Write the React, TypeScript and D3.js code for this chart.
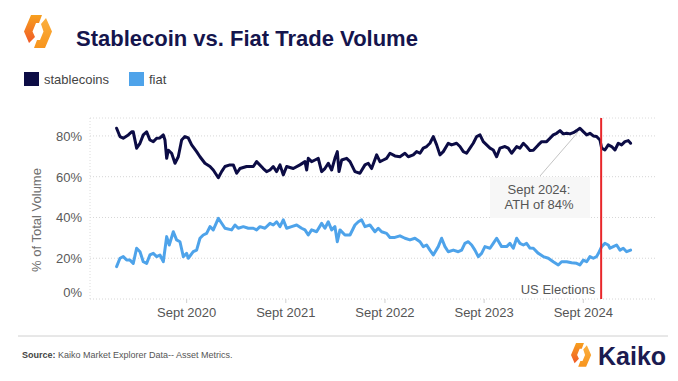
import React from "react";
import * as d3 from "d3";

// decimal-year, percent of total volume
const stablecoinSeries: [number, number][] = [
  [2019.960, 83.8],[2019.994, 79.7],[2020.027, 78.9],[2020.078, 80.5],[2020.112, 82],[2020.128, 82],
  [2020.162, 74],[2020.196, 76.4],[2020.229, 80.5],[2020.263, 82],[2020.296, 78],[2020.330, 77.2],
  [2020.364, 78.9],[2020.397, 79],[2020.431, 80.5],[2020.448, 78],[2020.465, 69],[2020.481, 73],
  [2020.515, 71.5],[2020.549, 66.6],[2020.582, 69.8],[2020.616, 78],[2020.649, 79.7],[2020.683, 79],
  [2020.717, 75.6],[2020.767, 72.3],[2020.801, 69.8],[2020.851, 66.6],[2020.902, 65],[2020.935, 63.3],
  [2020.986, 59.5],[2021.019, 62.5],[2021.053, 65],[2021.103, 65.8],[2021.137, 65.8],[2021.171, 61.7],
  [2021.204, 64],[2021.271, 65],[2021.305, 65],[2021.339, 65],[2021.372, 67.4],[2021.439, 64],
  [2021.473, 62.5],[2021.507, 63.3],[2021.540, 65],[2021.574, 62.5],[2021.608, 65.8],[2021.641, 60.9],
  [2021.675, 65],[2021.742, 64],[2021.809, 65.8],[2021.860, 67.4],[2021.877, 63.3],[2021.893, 69],
  [2021.927, 67.4],[2021.961, 68.2],[2021.994, 69],[2022.028, 62.5],[2022.061, 64],[2022.095, 66.6],
  [2022.129, 63.3],[2022.162, 69],[2022.186, 72.3],[2022.203, 62.5],[2022.230, 68.2],[2022.280, 69],
  [2022.314, 67.4],[2022.364, 62.5],[2022.414, 61.7],[2022.465, 65.8],[2022.498, 66.6],[2022.532, 64],
  [2022.583, 70.7],[2022.616, 67.4],[2022.650, 68.2],[2022.683, 69],[2022.717, 71.5],[2022.767, 70.2],
  [2022.818, 69.8],[2022.868, 71.5],[2022.902, 69.8],[2022.952, 70.7],[2022.986, 72.3],[2023.020, 71.5],
  [2023.053, 74],[2023.087, 74.8],[2023.120, 76.4],[2023.154, 79.7],[2023.188, 75.6],[2023.221, 70.7],
  [2023.255, 72.3],[2023.305, 76.4],[2023.339, 75.6],[2023.389, 76.4],[2023.423, 74.8],[2023.457, 72.3],
  [2023.490, 71.5],[2023.524, 74],[2023.557, 76.4],[2023.591, 79.7],[2023.625, 80.5],[2023.658, 77.2],
  [2023.692, 75.6],[2023.726, 74],[2023.759, 73.1],[2023.793, 69.8],[2023.826, 74],[2023.877, 74.8],
  [2023.910, 74],[2023.944, 71.5],[2023.995, 74.8],[2024.028, 74],[2024.062, 76.4],[2024.095, 74.8],
  [2024.129, 72.8],[2024.163, 73],[2024.213, 75.6],[2024.247, 77.2],[2024.297, 77.2],[2024.331, 78.9],
  [2024.364, 80.5],[2024.398, 81.3],[2024.432, 82.6],[2024.465, 81],[2024.499, 81.3],[2024.532, 81],
  [2024.566, 81.6],[2024.600, 82.6],[2024.633, 83.8],[2024.667, 82.1],[2024.701, 80.5],[2024.734, 81.3],
  [2024.768, 80],[2024.801, 79.7],[2024.835, 78],[2024.852, 74],[2024.885, 73.1],[2024.919, 75.6],
  [2024.953, 74.8],[2024.986, 73.1],[2025.020, 76.4],[2025.053, 75.6],[2025.087, 77.2],[2025.121, 77.7],
  [2025.144, 76.4],
];

const fiatSeries: [number, number][] = [
  [2019.960, 15.9],[2019.994, 20],[2020.027, 20.8],[2020.061, 19.1],[2020.095, 19.1],[2020.128, 17.5],
  [2020.162, 24.9],[2020.196, 23.2],[2020.229, 18.3],[2020.263, 17.5],[2020.296, 21.6],[2020.330, 22.4],
  [2020.364, 20.8],[2020.397, 21.6],[2020.431, 18.3],[2020.465, 30.6],[2020.491, 26.5],[2020.532, 33],
  [2020.565, 29],[2020.599, 28.1],[2020.633, 20.8],[2020.666, 22.4],[2020.683, 20],[2020.733, 23.2],
  [2020.767, 24],[2020.801, 29.8],[2020.834, 31.4],[2020.868, 32.2],[2020.902, 35.5],[2020.935, 33.9],
  [2020.986, 39.6],[2021.053, 34.7],[2021.120, 33.9],[2021.154, 36.3],[2021.187, 34.7],[2021.238, 35.5],
  [2021.288, 34.7],[2021.339, 34.7],[2021.372, 33.9],[2021.406, 35.5],[2021.456, 34.7],[2021.507, 37.1],
  [2021.540, 36.3],[2021.574, 37.9],[2021.608, 35.5],[2021.641, 38.8],[2021.675, 34.7],[2021.725, 35.5],
  [2021.776, 36.3],[2021.826, 34.7],[2021.860, 33.9],[2021.893, 31.4],[2021.927, 33.9],[2021.977, 33],
  [2022.028, 37.1],[2022.061, 34.7],[2022.095, 37.9],[2022.129, 33.9],[2022.162, 35.5],[2022.186, 28.1],
  [2022.213, 33.9],[2022.263, 31.4],[2022.314, 31.4],[2022.364, 36.3],[2022.398, 37.9],[2022.431, 38.8],
  [2022.465, 35.5],[2022.515, 36.3],[2022.566, 33],[2022.599, 34.7],[2022.633, 33],[2022.683, 32.2],
  [2022.717, 30.2],[2022.767, 30.2],[2022.818, 31],[2022.868, 29.8],[2022.919, 29],[2022.969, 29.8],
  [2023.020, 28.1],[2023.053, 25.7],[2023.087, 26.5],[2023.120, 24],[2023.154, 21.6],[2023.204, 25.7],
  [2023.238, 29.8],[2023.272, 25.7],[2023.305, 23.2],[2023.356, 24],[2023.406, 23.2],[2023.440, 24],
  [2023.473, 27.3],[2023.507, 28.1],[2023.541, 26.5],[2023.574, 24],[2023.608, 20.8],[2023.641, 22.4],
  [2023.675, 25.7],[2023.726, 24.9],[2023.759, 27.3],[2023.793, 29.8],[2023.843, 25.7],[2023.894, 25.7],
  [2023.927, 27.3],[2023.961, 24.9],[2023.995, 29.8],[2024.028, 27.3],[2024.062, 26.5],[2024.095, 27.3],
  [2024.129, 25],[2024.163, 24.9],[2024.213, 22.4],[2024.263, 20.8],[2024.314, 20],[2024.364, 18.3],
  [2024.415, 16.7],[2024.448, 18.3],[2024.499, 18.3],[2024.549, 17.8],[2024.600, 17.5],[2024.633, 16.7],
  [2024.667, 19.1],[2024.701, 18.3],[2024.734, 20.8],[2024.768, 20],[2024.801, 20.8],[2024.828, 23.2],
  [2024.852, 25.7],[2024.885, 27.3],[2024.919, 26.5],[2024.936, 24.9],[2024.969, 25.7],[2025.003, 26.5],
  [2025.037, 24],[2025.070, 24.9],[2025.104, 23.2],[2025.144, 24],
];

const yTicks = [0, 20, 40, 60, 80];
const xTickYears = [2020, 2021, 2022, 2023, 2024];
const xTickLabels = ["Sept 2020", "Sept 2021", "Sept 2022", "Sept 2023", "Sept 2024"];
const electionDate = 2024.847;
const athPoint: [number, number] = [2024.633, 83.8];
const seriesNames = ["stablecoins", "fiat"];
const seriesColors = ["#0c0c45", "#4ea3ea"];

const W = 678, H = 381;
const plot = { left: 90, right: 657, top: 118, bottom: 299 };
const FONT = "'Liberation Sans', Arial, Helvetica, sans-serif";

function Logo({ x, y, s, id }: { x: number; y: number; s: number; id: string }) {
  return (
    <g transform={`translate(${x},${y}) scale(${s})`}>
      <defs>
        <linearGradient id={`lg${id}`} x1="0" y1="0" x2="0" y2="1">
          <stop offset="0" stopColor="#f7a01e" />
          <stop offset="1" stopColor="#f05a28" />
        </linearGradient>
        <linearGradient id={`rg${id}`} x1="0" y1="0" x2="0" y2="1">
          <stop offset="0" stopColor="#fbb040" />
          <stop offset="1" stopColor="#f7941d" />
        </linearGradient>
      </defs>
      <polygon points="18,0 7,0 0,16.5 5,28 11,22 8.5,16.5 12,8 15,8" fill={`url(#lg${id})`} />
      <polygon points="22,3 28,16.5 21,33 10,33 13,25 16,25 19.5,16.5 17,9" fill={`url(#rg${id})`} />
    </g>
  );
}

export default function App() {
  const x = d3.scaleLinear().domain([2020.667, 2024.667]).range([186.7, 583.3]);
  const y = d3.scaleLinear().domain([0, 88.8]).range([plot.bottom, plot.top]);
  const line = d3
    .line<[number, number]>()
    .x((d) => x(d[0]))
    .y((d) => y(d[1]));
  const ex = x(electionDate);

  return (
    <svg width={W} height={H} style={{ display: "block", position: "absolute", left: 0, top: 0, background: "#fff" }} fontFamily={FONT}>
      <rect width={W} height={H} fill="#fff" />
      <Logo x={24} y={15} s={1} id="a" />
      <text x={76} y={46} fontSize={22} fontWeight="bold" fill="#15154d">
        Stablecoin vs. Fiat Trade Volume
      </text>

      {/* legend */}
      {seriesNames.map((n, i) => (
        <g key={n} transform={`translate(${i === 0 ? 24 : 129},72)`}>
          <rect width={15} height={14} fill={seriesColors[i]} />
          <text x={20} y={12} fontSize={13} fill="#444">{n}</text>
        </g>
      ))}

      {/* grid */}
      <line x1={plot.left} x2={plot.right} y1={plot.top} y2={plot.top} stroke="#dcdcdc" strokeDasharray="1,2" />
      {yTicks.map((t) => (
        <g key={t}>
          <line x1={plot.left} x2={plot.right} y1={y(t)} y2={y(t)} stroke="#d6d6d6" strokeDasharray="1,2" />
          <text x={82} y={t === 0 ? y(t) - 2 : y(t) + 5} fontSize={13} fill="#5a5a5a" textAnchor="end">{t}%</text>
        </g>
      ))}
      <line x1={plot.left} x2={plot.left} y1={plot.top} y2={plot.bottom} stroke="#dcdcdc" strokeDasharray="1,2" />
      <text transform={`translate(41,220) rotate(-90)`} fontSize={13} fill="#707070" textAnchor="middle">% of Total Volume</text>

      {xTickYears.map((yr, i) => {
        const px = x(yr + 8 / 12);
        return (
          <g key={yr}>
            <line x1={px} x2={px} y1={plot.bottom} y2={plot.bottom + 4} stroke="#cfcfcf" />
            <text x={px} y={317} fontSize={13} fill="#555" textAnchor="middle">{xTickLabels[i]}</text>
          </g>
        );
      })}

      {/* annotation box */}
      <rect x={490} y={177} width={100} height={41} fill="#f7f7f7" />
      <line x1={540} y1={176} x2={x(athPoint[0]) - 2} y2={y(athPoint[1]) + 4} stroke="#c4c4c4" strokeWidth={1} />

      {/* series */}
      <path d={line(fiatSeries) || ""} fill="none" stroke={seriesColors[1]} strokeWidth={3} strokeLinejoin="round" strokeLinecap="round" />
      <path d={line(stablecoinSeries) || ""} fill="none" stroke={seriesColors[0]} strokeWidth={3} strokeLinejoin="round" strokeLinecap="round" />

      <text x={539} y={194} fontSize={13} fill="#555" textAnchor="middle">Sept 2024:</text>
      <text x={539} y={209} fontSize={13} fill="#555" textAnchor="middle">ATH of 84%</text>

      {/* election */}
      <line x1={ex} x2={ex} y1={plot.top} y2={plot.bottom} stroke="#e8262a" strokeWidth={2} />
      <text x={ex - 6} y={294} fontSize={13} fill="#555" textAnchor="end">US Elections</text>

      {/* footer */}
      <line x1={18} x2={668} y1={336} y2={336} stroke="#d0d0d0" />
      <text x={22} y={358} fontSize={9} fill="#555">
        <tspan fontWeight="bold" fill="#444">Source:</tspan> Kaiko Market Explorer Data-- Asset Metrics.
      </text>
      <Logo x={571} y={343} s={0.72} id="b" />
      <text x={598} y={365} fontSize={25} fontWeight="bold" fill="#1b1b50">Kaiko</text>
    </svg>
  );
}
